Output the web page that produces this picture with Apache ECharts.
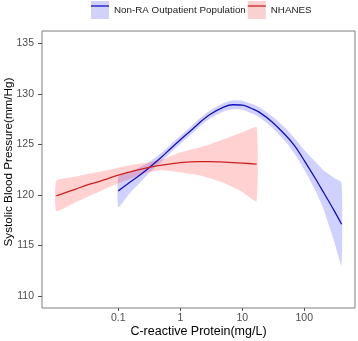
<!DOCTYPE html>
<html>
<head>
<meta charset="utf-8">
<script src="https://cdn.jsdelivr.net/npm/echarts@6/dist/echarts.min.js"></script>
<style>
  html, body { margin: 0; padding: 0; background: #fff; }
  #chart { width: 358px; height: 341px; }
</style>
</head>
<body>
<div id="chart"></div>
<script>
// NHANES curve (CRP in mg/L, SBP in mm/Hg)
const nhCrp = [0.01, 0.02, 0.03, 0.05, 0.1, 0.2, 0.3, 0.5, 1, 2, 3, 5, 10, 17]
const nhMean = [119.9, 120.55, 120.95, 121.35, 121.95, 122.45, 122.7, 122.95, 123.2, 123.3, 123.3, 123.25, 123.15, 123.05]
const nhLo = [118.4, 119.25, 119.75, 120.35, 121.15, 121.85, 122.25, 122.45, 122.25, 121.95, 121.65, 121.2, 120.3, 119.4]
const nhHi = [121.4, 121.8, 122.05, 122.3, 122.7, 123.05, 123.2, 123.5, 124.2, 124.7, 125.0, 125.5, 126.2, 126.7]

// Non-RA outpatient curve
const raCrp = [0.1, 0.15, 0.2, 0.3, 0.5, 0.7, 1, 1.5, 2, 3, 5, 7, 10, 15, 20, 30, 50, 70, 100, 150, 200, 300, 400]
const raMean = [120.4, 121.2, 121.75, 122.6, 123.75, 124.6, 125.45, 126.4, 127.1, 127.95, 128.68, 128.92, 128.88, 128.48, 128.07, 127.25, 125.9, 124.85, 123.4, 121.65, 120.35, 118.5, 117.1]
const raLo = [118.8, 120.1, 120.9, 122.05, 123.3, 124.2, 125.05, 126.0, 126.7, 127.55, 128.26, 128.47, 128.43, 128.0, 127.57, 126.7, 125.25, 124.05, 122.5, 120.45, 118.75, 115.5, 113.05]
const raHi = [121.8, 122.3, 122.6, 123.15, 124.2, 125.0, 125.85, 126.8, 127.5, 128.35, 129.1, 129.37, 129.33, 128.96, 128.57, 127.8, 126.6, 125.6, 124.45, 123.3, 122.5, 121.7, 121.2]

// ticks
const xTicks = [0.1, 1, 10, 100]
const xTickLabels = ['0.1', '1', '10', '100']
const yTicks = [110, 115, 120, 125, 130, 135]

const raName = 'Non-RA Outpatient Population'
const nhName = 'NHANES'
const raLine = '#1010c0'
const nhLine = '#cc2222'
const raBand = 'rgba(0,0,255,0.18)'
const nhBand = 'rgba(255,0,0,0.18)'
const font = 'Liberation Sans, Arial, sans-serif'

const lg = v => Math.log10(v)
const pts = (xs, ys) => xs.map((x, i) => [lg(x), ys[i]])

const chart = echarts.init(document.getElementById('chart'))

// confidence ribbon: one polygon, upper edge forward, lower edge back
function band (name, xs, lo, hi, color) {
  return {
    name: name + ' CI',
    type: 'custom',
    silent: true,
    data: xs.map((x, i) => [lg(x), lo[i], hi[i]]),
    encode: { x: 0, y: [1, 2] },
    renderItem: (params, api) => {
      if (params.dataIndex !== 0) return
      const upper = xs.map((x, i) => api.coord([lg(x), hi[i]]))
      const lower = xs.map((x, i) => api.coord([lg(x), lo[i]])).reverse()
      return {
        type: 'polygon',
        shape: { points: upper.concat(lower), smooth: 0.15 },
        style: { fill: color }
      }
    }
  }
}

const legendText = { fontFamily: font, fontSize: 9.8, color: '#1a1a1a' }

chart.setOption({
  animation: false,
  grid: {
    left: 42,
    right: 3,
    top: 31,
    bottom: 33,
    show: true,
    borderColor: '#7f7f7f',
    borderWidth: 1,
    containLabel: false,
    outerBoundsMode: 'none'
  },
  legend: [{
    left: 91,
    top: 1,
    padding: 0,
    itemWidth: 18,
    itemHeight: 18,
    itemGap: 2,
    selectedMode: false,
    textStyle: legendText,
    data: [
      { name: raName, icon: 'rect', itemStyle: { color: 'rgb(209,209,250)', borderWidth: 0 } },
      { name: nhName, icon: 'rect', itemStyle: { color: 'rgb(250,209,209)', borderWidth: 0 } }
    ]
  }, {
    left: 91,
    top: 1,
    padding: 0,
    itemWidth: 18,
    itemHeight: 18,
    itemGap: 2,
    selectedMode: false,
    textStyle: Object.assign({}, legendText, { color: 'rgba(0,0,0,0)' }),
    data: [
      { name: raName, icon: 'path://M0,0H18V1.3H0Z', itemStyle: { color: raLine, borderWidth: 0 } },
      { name: nhName, icon: 'path://M0,0H18V1.3H0Z', itemStyle: { color: nhLine, borderWidth: 0 } }
    ]
  }],
  xAxis: {
    type: 'value',
    min: -2.231,
    max: 2.818,
    name: 'C-reactive Protein(mg/L)',
    nameLocation: 'middle',
    nameGap: 17,
    nameMoveOverlap: false,
    nameTextStyle: { fontFamily: font, fontSize: 12.5, color: '#000' },
    axisLine: { show: false, onZero: false },
    splitLine: { show: false },
    axisTick: {
      show: true,
      length: 3,
      customValues: xTicks.map(lg),
      lineStyle: { color: '#4d4d4d' }
    },
    axisLabel: {
      margin: 5,
      fontFamily: font,
      fontSize: 10.5,
      color: '#4d4d4d',
      customValues: xTicks.map(lg),
      formatter: v => {
        const i = xTicks.findIndex(t => Math.abs(lg(t) - v) < 1e-6)
        return i >= 0 ? xTickLabels[i] : ''
      }
    }
  },
  yAxis: {
    type: 'value',
    min: 108.81,
    max: 136.22,
    name: 'Systolic Blood Pressure(mm/Hg)',
    nameLocation: 'middle',
    nameGap: 27,
    nameMoveOverlap: false,
    nameTextStyle: { fontFamily: font, fontSize: 11.7, color: '#000', padding: [0, 0, 0, 15] },
    axisLine: { show: false, onZero: false },
    splitLine: { show: false },
    axisTick: {
      show: true,
      length: 4,
      customValues: yTicks,
      lineStyle: { color: '#4d4d4d' }
    },
    axisLabel: {
      margin: 8,
      fontFamily: font,
      fontSize: 10.5,
      color: '#4d4d4d',
      customValues: yTicks
    }
  },
  series: [
    band(raName, raCrp, raLo, raHi, raBand),
    band(nhName, nhCrp, nhLo, nhHi, nhBand),
    {
      name: raName,
      type: 'line',
      smooth: 0.3,
      symbol: 'none',
      color: raLine,
      lineStyle: { width: 1.3, color: raLine },
      data: pts(raCrp, raMean)
    },
    {
      name: nhName,
      type: 'line',
      smooth: 0.3,
      symbol: 'none',
      color: nhLine,
      lineStyle: { width: 1.3, color: nhLine },
      data: pts(nhCrp, nhMean)
    }
  ]
})

window.addEventListener('resize', () => chart.resize())
</script>
</body>
</html>
